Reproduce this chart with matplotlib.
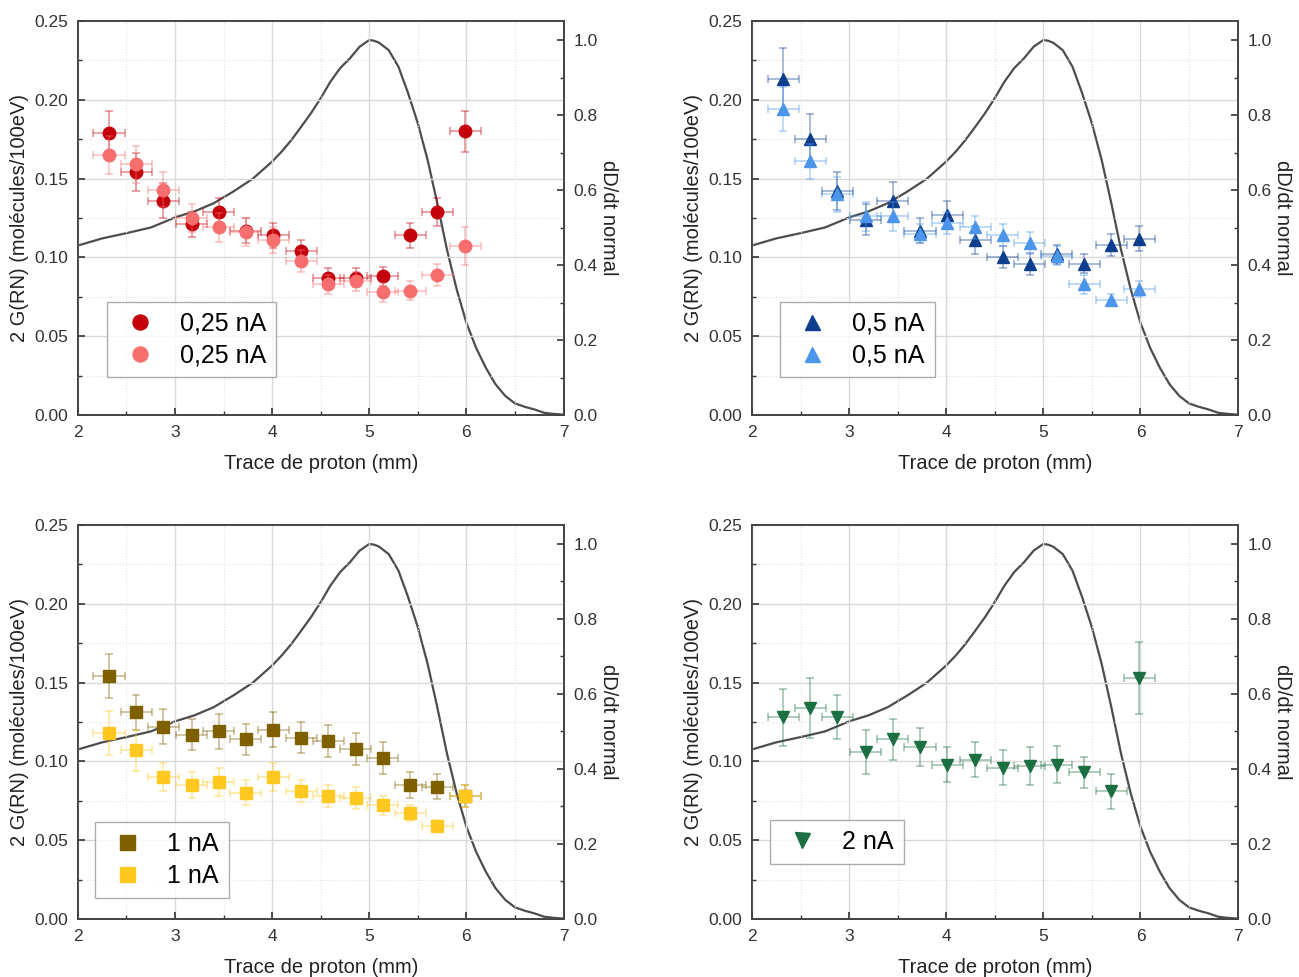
import numpy as np
import matplotlib.pyplot as plt
from matplotlib.ticker import MultipleLocator

plt.rcParams['font.family'] = ['Liberation Sans', 'DejaVu Sans']

# positions along the proton track (mm)
x_pos = [2.32, 2.60, 2.88, 3.17, 3.45, 3.73, 4.01, 4.30, 4.58, 4.86, 5.14, 5.42, 5.70, 5.99]
x_err = 0.16

# 0,25 nA
g025_a = [0.179, 0.154, 0.136, 0.121, 0.129, 0.117, 0.114, 0.104, 0.087, 0.087, 0.088, 0.114, 0.129, 0.180]
e025_a = [0.014, 0.012, 0.011, 0.008, 0.009, 0.008, 0.008, 0.007, 0.006, 0.006, 0.006, 0.008, 0.009, 0.013]
g025_b = [0.165, 0.159, 0.143, 0.125, 0.119, 0.116, 0.111, 0.098, 0.083, 0.085, 0.078, 0.079, 0.089, 0.107]
e025_b = [0.012, 0.012, 0.011, 0.009, 0.009, 0.009, 0.008, 0.007, 0.006, 0.006, 0.006, 0.006, 0.007, 0.012]

# 0,5 nA
g05_a = [0.213, 0.175, 0.142, 0.124, 0.136, 0.117, 0.127, 0.111, 0.100, 0.096, 0.102, 0.096, 0.108, 0.112]
e05_a = [0.020, 0.016, 0.012, 0.010, 0.012, 0.008, 0.009, 0.009, 0.007, 0.007, 0.006, 0.006, 0.007, 0.008]
g05_b = [0.194, 0.161, 0.140, 0.126, 0.126, 0.115, 0.122, 0.119, 0.114, 0.109, 0.101, 0.083, 0.073, 0.080]
e05_b = [0.014, 0.011, 0.011, 0.009, 0.009, 0.006, 0.007, 0.007, 0.007, 0.007, 0.006, 0.006, 0.004, 0.005]

# 1 nA
g1_a = [0.154, 0.131, 0.122, 0.117, 0.119, 0.114, 0.120, 0.115, 0.113, 0.108, 0.102, 0.085, 0.084, 0.078]
e1_a = [0.014, 0.011, 0.011, 0.010, 0.011, 0.010, 0.011, 0.010, 0.010, 0.010, 0.010, 0.008, 0.008, 0.007]
g1_b = [0.118, 0.107, 0.090, 0.085, 0.087, 0.080, 0.090, 0.081, 0.078, 0.077, 0.072, 0.067, 0.059, 0.078]
e1_b = [0.014, 0.013, 0.009, 0.008, 0.009, 0.008, 0.009, 0.007, 0.007, 0.007, 0.006, 0.005, 0.004, 0.007]

# 2 nA
g2 = [0.128, 0.134, 0.128, 0.106, 0.114, 0.109, 0.098, 0.101, 0.096, 0.097, 0.098, 0.093, 0.081, 0.153]
e2 = [0.018, 0.019, 0.014, 0.014, 0.013, 0.012, 0.011, 0.011, 0.011, 0.012, 0.012, 0.010, 0.011, 0.023]

# normalised dose deposition curve
curve_x = [2.0, 2.25, 2.5, 2.75, 2.9, 3.0, 3.2, 3.4, 3.6, 3.8, 4.0, 4.1, 4.2, 4.3, 4.4, 4.5,
           4.6, 4.7, 4.8, 4.9, 5.0, 5.05, 5.1, 5.2, 5.3, 5.4, 5.5, 5.6, 5.7, 5.8, 5.9, 6.0,
           6.1, 6.2, 6.3, 6.4, 6.5, 6.6, 6.7, 6.8, 6.9, 7.0]
curve_y = [0.452, 0.471, 0.485, 0.500, 0.516, 0.527, 0.543, 0.565, 0.596, 0.630, 0.676, 0.703,
           0.734, 0.769, 0.805, 0.845, 0.889, 0.925, 0.951, 0.982, 1.000, 0.998, 0.993, 0.973,
           0.929, 0.858, 0.778, 0.681, 0.565, 0.441, 0.335, 0.246, 0.179, 0.126, 0.082, 0.051,
           0.031, 0.022, 0.015, 0.006, 0.003, 0.001]

panels = [
    ([(g025_a, e025_a, '#c4000b', 'o', '0,25 nA'), (g025_b, e025_b, '#f76e6e', 'o', '0,25 nA')],
     [0.060, 0.5752], (0.06, 0.287)),
    ([(g05_a, e05_a, '#0e3f8e', '^', '0,5 nA'), (g05_b, e05_b, '#4b95ea', '^', '0,5 nA')],
     [0.5789, 0.5752], (0.057, 0.287)),
    ([(g1_a, e1_a, '#7f6000', 's', '1 nA'), (g1_b, e1_b, '#ffc820', 's', '1 nA')],
     [0.060, 0.0594], (0.035, 0.246)),
    ([(g2, e2, '#1b6f40', 'v', '2 nA')],
     [0.5789, 0.0594], (0.037, 0.251)),
]

fig = plt.figure(figsize=(12.99, 9.77), dpi=100)

for series, (left, bottom), leg_pos in panels:
    ax = fig.add_axes([left, bottom, 0.3738, 0.4033])
    ax2 = ax.twinx()

    ax.set_zorder(ax2.get_zorder() + 1)
    ax.patch.set_visible(False)

    ax2.plot(curve_x, curve_y, color='#4d4d4d', lw=1.6)
    ax2.set_ylim(0, 1.0507)
    ax2.yaxis.set_major_locator(MultipleLocator(0.2))
    ax2.yaxis.set_minor_locator(MultipleLocator(0.1))
    ax2.set_ylabel('dD/dt normal', fontsize=14.5, rotation=270, labelpad=15, color='#222222')

    for vals, errs, col, mk, lab in series:
        ax.errorbar(x_pos, vals, yerr=errs, xerr=x_err, fmt='none', ecolor=col,
                    alpha=0.45, elinewidth=1.1, capsize=3, capthick=1.1)
        ax.plot(x_pos, vals, ls='none', marker=mk, color=col, ms=9, label=lab)

    ax.set_xlim(2, 7)
    ax.set_ylim(0, 0.25)
    ax.xaxis.set_major_locator(MultipleLocator(1))
    ax.xaxis.set_minor_locator(MultipleLocator(0.5))
    ax.yaxis.set_major_locator(MultipleLocator(0.05))
    ax.yaxis.set_minor_locator(MultipleLocator(0.025))
    ax.yaxis.set_major_formatter(plt.FormatStrFormatter('%.2f'))
    ax2.yaxis.set_major_formatter(plt.FormatStrFormatter('%.1f'))

    ax.grid(True, which='major', color='#d9d9d9', lw=1)
    ax.grid(True, which='minor', color='#e2e2e2', lw=0.8, ls=':')
    ax.set_axisbelow(True)

    for a in (ax, ax2):
        a.tick_params(which='both', direction='in', labelsize=12.5, colors='#333333', pad=7)
        a.tick_params(which='major', length=5, width=1.2)
        a.tick_params(which='minor', length=3, width=1)
        for s in a.spines.values():
            s.set_color('#444444')
            s.set_linewidth(1.3)

    ax.set_xlabel('Trace de proton (mm)', fontsize=14.5, color='#222222', labelpad=10)
    ax.set_ylabel('2 G(RN) (molécules/100eV)', fontsize=14.5, color='#222222', labelpad=4)

    leg = ax.legend(loc='upper left', bbox_to_anchor=leg_pos, fontsize=18, frameon=True,
                    fancybox=False, edgecolor='#999999', handletextpad=0.7,
                    borderpad=0.4, labelspacing=0.3, handlelength=1.8, markerscale=1.2,
                    borderaxespad=0)
    leg.get_frame().set_linewidth(1.0)

fig.savefig('out.png', dpi=100, facecolor='white')
